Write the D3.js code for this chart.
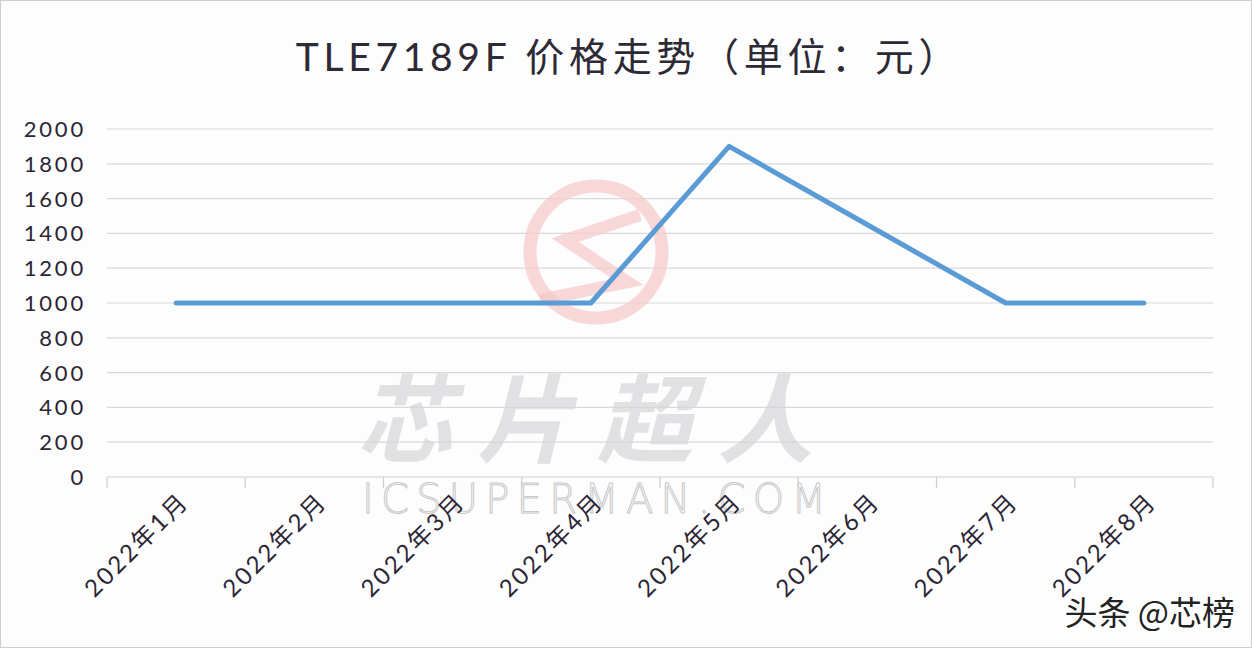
<!DOCTYPE html>
<html><head><meta charset="utf-8">
<script src="https://cdn.jsdelivr.net/npm/d3@7"></script>
<style>
html,body{margin:0;padding:0;background:#fff;}
svg{display:block;}
</style></head>
<body>
<script>
const categories = ["2022年1月","2022年2月","2022年3月","2022年4月","2022年5月","2022年6月","2022年7月","2022年8月"];
const prices = [1000, 1000, 1000, 1000, 1900, 1450, 1000, 1000];
const yTicks = [0, 200, 400, 600, 800, 1000, 1200, 1400, 1600, 1800, 2000];
const titleText = "TLE7189F 价格走势（单位：元）";

const W = 1252, H = 648;
const margin = {left: 107, right: 39, top: 129, bottom: 171};
const fontFam = "Lato, 'Noto Sans CJK SC', sans-serif";

const svg = d3.select("body").append("svg").attr("width", W).attr("height", H);
svg.append("rect").attr("x",0.5).attr("y",0.5).attr("width",W-1).attr("height",H-1)
  .attr("fill","#fdfdfe").attr("stroke","#cfcfcf");

const x = d3.scaleBand().domain(categories).range([margin.left, W - margin.right]);
const y = d3.scaleLinear().domain([0, 2000]).range([H - margin.bottom, margin.top]);

// gridlines
svg.append("g").selectAll("line").data(yTicks.filter(d => d > 0)).join("line")
  .attr("x1", margin.left).attr("x2", W - margin.right)
  .attr("y1", d => y(d)).attr("y2", d => y(d))
  .attr("stroke", "#d9d9d9").attr("stroke-width", 1.2);

// watermark
const wm = svg.append("g").attr("pointer-events","none");
wm.append("circle").attr("cx",596).attr("cy",252).attr("r",66)
  .attr("fill","none").attr("stroke","#f4c9c9").attr("stroke-width",13).attr("opacity",0.75);
wm.append("path").attr("d","M640,215 L565,240 L628,282 L540,300")
  .attr("fill","none").attr("stroke","#f4c9c9").attr("stroke-width",12).attr("stroke-linejoin","miter").attr("opacity",0.75);
wm.append("text").attr("x",597).attr("y",455).attr("text-anchor","middle")
  .attr("font-family","'Noto Sans CJK SC'").attr("font-weight","bold").attr("font-size",96)
  .attr("font-style","italic").attr("letter-spacing",24)
  .attr("fill","#d6d6d8").attr("opacity",0.7).text("芯片超人");
wm.append("text").attr("x",597).attr("y",513).attr("text-anchor","middle")
  .attr("font-family","'DejaVu Sans', sans-serif").attr("font-weight","200").attr("font-size",40)
  .attr("letter-spacing",6).attr("textLength",470)
  .attr("fill","none").attr("stroke","#c8c8c8").attr("stroke-width",1).text("ICSUPERMAN.COM");

// y axis labels
svg.append("g").selectAll("text").data(yTicks).join("text")
  .attr("x", 86).attr("y", d => y(d)).attr("dy", "0.36em")
  .attr("text-anchor", "end").attr("font-family", fontFam).attr("font-size", 22)
  .attr("letter-spacing", 2.8)
  .attr("fill", "#2b2535").text(d => d);

// x axis
const xAxis = svg.append("g").attr("transform", `translate(0,${H - margin.bottom})`);
xAxis.append("line").attr("x1", margin.left).attr("x2", W - margin.right)
  .attr("stroke", "#cfcfcf").attr("stroke-width", 1.2);
const bounds = categories.map(c => x(c)).concat([x(categories[categories.length-1]) + x.bandwidth()]);
xAxis.selectAll("line.tick").data(bounds).join("line").attr("class","tick")
  .attr("x1", d => d).attr("x2", d => d).attr("y1", 0).attr("y2", 11)
  .attr("stroke", "#cfcfcf").attr("stroke-width", 1.2);
xAxis.selectAll("text").data(categories).join("text")
  .attr("transform", d => `translate(${x(d) + x.bandwidth()/2 + 14},${26}) rotate(-45)`)
  .attr("text-anchor", "end").attr("font-family", fontFam).attr("font-size", 24)
  .attr("letter-spacing", 2.5)
  .attr("fill", "#2b2535").text(d => d);

// line
const line = d3.line().x((d, i) => x(categories[i]) + x.bandwidth()/2).y(d => y(d));
svg.append("path").datum(prices).attr("d", line)
  .attr("fill", "none").attr("stroke", "#5b9bd5").attr("stroke-width", 5)
  .attr("stroke-linecap", "round").attr("stroke-linejoin", "round");

// title
svg.append("text").attr("x", 629).attr("y", 71).attr("text-anchor", "middle")
  .attr("font-family", fontFam).attr("font-size", 39).attr("fill", "#2e2a35")
  .attr("letter-spacing", 4.7).text(titleText);

// source tag
svg.append("text").attr("x", 1235).attr("y", 625).attr("text-anchor", "end")
  .attr("font-family", "'Noto Sans CJK SC'").attr("font-size", 33)
  .attr("fill", "#222").attr("stroke", "#fff").attr("stroke-width", 3).attr("paint-order", "stroke")
  .text("头条 @芯榜");
</script>
</body></html>
